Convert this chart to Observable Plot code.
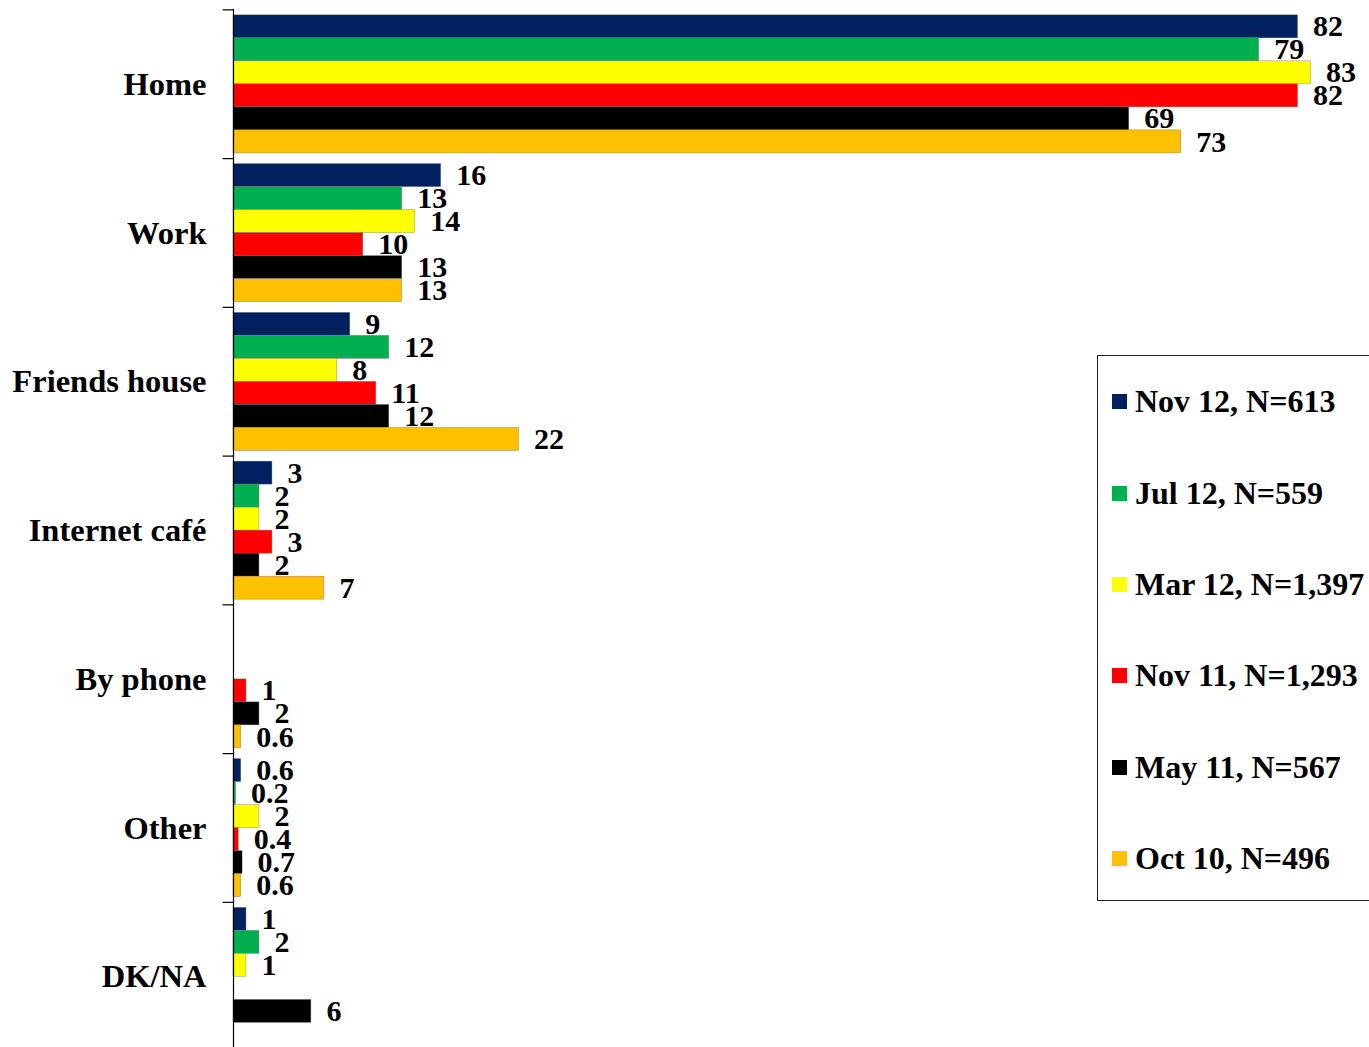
<!DOCTYPE html>
<html>
<head>
<meta charset="utf-8">
<script src="https://cdn.jsdelivr.net/npm/d3@7"></script>
<script src="https://cdn.jsdelivr.net/npm/@observablehq/plot@0.6"></script>
<style>
  html, body { margin: 0; padding: 0; background: #fff; overflow: hidden; }
  #wrap { position: relative; width: 1369px; height: 1047px; overflow: hidden; }
  #legend {
    position: absolute; left: 1097px; top: 355px; width: 320px; height: 546px;
    border: 1.5px solid #222; box-sizing: border-box; background: #fff;
    font-family: "Liberation Serif", "Times New Roman", serif; font-weight: bold; font-size: 32px;
    padding-top: 0px;
  }
  .item { height: 91.4px; display: flex; align-items: center; }
  .sw { width: 15px; height: 15px; margin-left: 14px; margin-right: 8px; flex: none; }
</style>
</head>
<body>
<div id="wrap"><div id="chart"></div><div id="legend"></div></div>
<script>
const categories = ["Home", "Work", "Friends house", "Internet café", "By phone", "Other", "DK/NA"];
const seriesNames = ["Nov 12, N=613", "Jul 12, N=559", "Mar 12, N=1,397", "Nov 11, N=1,293", "May 11, N=567", "Oct 10, N=496"];
const seriesColors = ["#002060", "#00B050", "#FFFF00", "#FF0000", "#000000", "#FFC000"];

const nov12 = [82, 16, 9, 3, null, 0.6, 1];
const jul12 = [79, 13, 12, 2, null, 0.2, 2];
const mar12 = [83, 14, 8, 2, null, 2, 1];
const nov11 = [82, 10, 11, 3, 1, 0.4, null];
const may11 = [69, 13, 12, 2, 2, 0.7, 6];
const oct10 = [73, 13, 22, 7, 0.6, 0.6, null];

const seriesValues = [nov12, jul12, mar12, nov11, may11, oct10];

const data = [];
seriesNames.forEach((s, si) => {
  categories.forEach((c, ci) => {
    const v = seriesValues[si][ci];
    if (v != null) data.push({cat: c, series: s, value: v});
  });
});

const font = '"Liberation Serif", "Times New Roman", serif';

const chart = Plot.plot({
  width: 1369,
  height: 1047,
  marginLeft: 233,
  marginRight: 0,
  marginTop: 9.5,
  marginBottom: -3.75,
  style: {fontFamily: font, fontSize: "32.5px", fontWeight: "bold", color: "#000", background: "#fff"},
  x: {domain: [0, 87.5], axis: null},
  y: {domain: seriesNames, padding: 0, axis: null, round: false},
  fy: {domain: categories, paddingInner: 0.072, paddingOuter: 0.036, round: false, axis: "left", label: null, tickSize: 0, tickPadding: 27},
  color: {domain: seriesNames, range: seriesColors},
  marks: [
    Plot.barX(data, {fy: "cat", y: "series", x: "value", fill: "series", stroke: "#777", strokeWidth: 0.4}),
    Plot.text(data, {fy: "cat", y: "series", x: "value", text: d => String(d.value), textAnchor: "start", dx: 15, fontSize: 30, fontWeight: "bold", fontFamily: font, fill: "#000"}),
    Plot.ruleX([0], {stroke: "#000", strokeWidth: 1.2, insetTop: -6, insetBottom: -6}),
    Plot.ruleY([seriesNames[0]], {x1: -0.8, x2: 0, dy: -17, stroke: "#000", strokeWidth: 1.2})
  ]
});
document.getElementById("chart").appendChild(chart);

const legend = document.getElementById("legend");
seriesNames.forEach((s, i) => {
  const row = document.createElement("div");
  row.className = "item";
  const sw = document.createElement("span");
  sw.className = "sw";
  sw.style.background = seriesColors[i];
  const t = document.createElement("span");
  t.textContent = s;
  row.appendChild(sw);
  row.appendChild(t);
  legend.appendChild(row);
});
</script>
</body>
</html>
